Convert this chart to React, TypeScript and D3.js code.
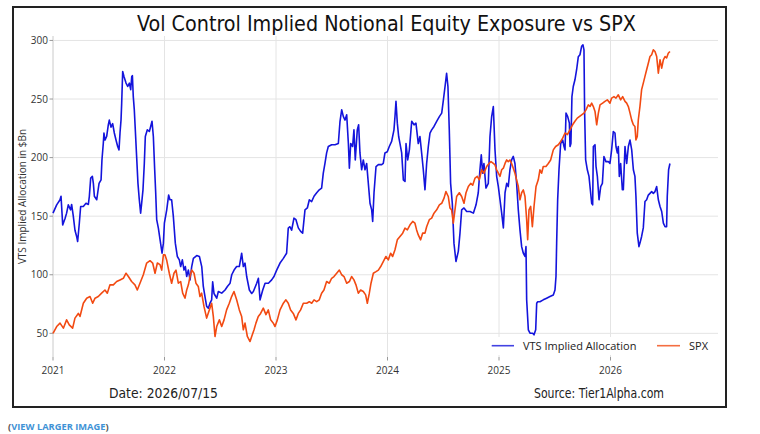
import * as d3 from 'd3'

// VTS implied allocation ($Bn), [fractional year, value]
const vtsPoints: [number, number][] = [
  [2021.0, 152.6], [2021.033, 159.7], [2021.063, 164], [2021.072, 167], [2021.087, 142.6],
  [2021.108, 148], [2021.122, 152.6], [2021.137, 159.7], [2021.158, 155.4], [2021.167, 160],
  [2021.182, 150], [2021.197, 138], [2021.212, 132.7], [2021.221, 128.4], [2021.236, 144],
  [2021.248, 158.3], [2021.272, 158.3], [2021.296, 161], [2021.317, 160], [2021.326, 167],
  [2021.338, 182.5], [2021.353, 184], [2021.362, 178], [2021.371, 167], [2021.392, 164],
  [2021.401, 170], [2021.413, 178], [2021.431, 181], [2021.439, 198], [2021.451, 212],
  [2021.457, 221], [2021.466, 215], [2021.481, 218], [2021.496, 228], [2021.505, 232],
  [2021.52, 226], [2021.535, 229], [2021.55, 221], [2021.565, 215], [2021.58, 209.5],
  [2021.592, 206.6], [2021.601, 221], [2021.61, 232], [2021.616, 246.5], [2021.625, 273.5],
  [2021.637, 269], [2021.655, 263.6], [2021.67, 260.7], [2021.685, 263.6], [2021.697, 258],
  [2021.706, 269], [2021.712, 270], [2021.72, 252], [2021.729, 241], [2021.738, 224],
  [2021.75, 201], [2021.762, 178], [2021.774, 164], [2021.786, 152.6], [2021.795, 161],
  [2021.807, 172.5], [2021.819, 195], [2021.828, 218], [2021.846, 223.7], [2021.864, 222.3],
  [2021.876, 226.6], [2021.888, 231], [2021.9, 218], [2021.912, 189.6], [2021.921, 170],
  [2021.93, 147], [2021.945, 139.8], [2021.96, 130], [2021.978, 118.4], [2021.99, 127],
  [2021.999, 144], [2022.02, 155.4], [2022.037, 168], [2022.049, 164], [2022.064, 164],
  [2022.079, 150], [2022.097, 127], [2022.115, 115.6], [2022.133, 112.7], [2022.145, 107],
  [2022.16, 112.7], [2022.175, 104], [2022.187, 107], [2022.199, 98.5], [2022.214, 104],
  [2022.229, 95.6], [2022.244, 107], [2022.259, 114], [2022.289, 116.4], [2022.313, 115.6],
  [2022.334, 107], [2022.348, 90], [2022.363, 81.4], [2022.378, 73], [2022.393, 71.5],
  [2022.408, 75.7], [2022.423, 78.6], [2022.432, 94], [2022.444, 84], [2022.468, 80],
  [2022.483, 85.7], [2022.513, 84.3], [2022.543, 87], [2022.564, 90], [2022.588, 92.8],
  [2022.603, 100], [2022.624, 104], [2022.647, 107], [2022.671, 107], [2022.692, 118.4],
  [2022.707, 107], [2022.722, 109.9], [2022.737, 98.5], [2022.761, 87], [2022.782, 84],
  [2022.797, 85.7], [2022.827, 92.8], [2022.842, 97], [2022.857, 78.6], [2022.881, 87],
  [2022.902, 92.8], [2022.932, 92.8], [2022.961, 95.6], [2022.982, 98.5], [2023.006, 104],
  [2023.036, 110], [2023.066, 114], [2023.095, 118.4], [2023.11, 139.8], [2023.125, 141],
  [2023.14, 138], [2023.161, 148.3], [2023.179, 147], [2023.2, 140], [2023.221, 137],
  [2023.239, 135.5], [2023.26, 155.4], [2023.281, 157], [2023.299, 164], [2023.32, 162.5],
  [2023.341, 167], [2023.365, 170], [2023.388, 172.5], [2023.409, 174], [2023.424, 186.7],
  [2023.439, 195], [2023.454, 204], [2023.469, 209.5], [2023.499, 211], [2023.529, 211],
  [2023.559, 212], [2023.574, 231], [2023.589, 240.8], [2023.604, 235], [2023.619, 232],
  [2023.634, 236.5], [2023.649, 212], [2023.658, 191], [2023.67, 212], [2023.687, 209.5],
  [2023.699, 223.7], [2023.711, 198], [2023.729, 223.7], [2023.741, 228], [2023.753, 204],
  [2023.768, 189.6], [2023.783, 198], [2023.798, 189.6], [2023.813, 195], [2023.828, 178],
  [2023.843, 161], [2023.858, 155.4], [2023.867, 145.5], [2023.879, 170], [2023.897, 192.4],
  [2023.918, 194], [2023.948, 194], [2023.962, 195], [2023.977, 204], [2023.998, 205],
  [2024.016, 209.5], [2024.037, 213.8], [2024.058, 223.7], [2024.067, 235], [2024.076, 248],
  [2024.088, 229.4], [2024.1, 218], [2024.112, 212], [2024.127, 204], [2024.142, 181],
  [2024.157, 179.6], [2024.166, 212], [2024.181, 198], [2024.196, 206.6], [2024.217, 231],
  [2024.238, 228], [2024.255, 229.4], [2024.276, 212], [2024.291, 218], [2024.306, 204],
  [2024.321, 189.6], [2024.336, 172.5], [2024.351, 195], [2024.366, 209.5], [2024.381, 221],
  [2024.396, 223.7], [2024.417, 226.6], [2024.441, 231], [2024.465, 235], [2024.486, 238],
  [2024.501, 249], [2024.516, 260.7], [2024.53, 272], [2024.542, 260.7], [2024.554, 223.7],
  [2024.566, 178], [2024.581, 161], [2024.596, 127], [2024.614, 111.3], [2024.635, 120],
  [2024.65, 135.5], [2024.665, 155.4], [2024.686, 157], [2024.71, 154], [2024.74, 154],
  [2024.77, 152.6], [2024.794, 159.7], [2024.814, 170], [2024.829, 189.6], [2024.841, 202.4],
  [2024.853, 186.7], [2024.865, 195], [2024.883, 174], [2024.904, 178], [2024.919, 218],
  [2024.934, 235], [2024.949, 243.6], [2024.964, 206.6], [2024.979, 184], [2024.994, 175.3],
  [2025.009, 164], [2025.024, 152.6], [2025.039, 140], [2025.054, 170], [2025.069, 178],
  [2025.083, 175.3], [2025.098, 189.6], [2025.113, 198], [2025.128, 201], [2025.143, 195],
  [2025.158, 178], [2025.173, 155.4], [2025.188, 138.3], [2025.203, 124], [2025.218, 118.4],
  [2025.233, 115.6], [2025.242, 124], [2025.248, 78.6], [2025.263, 53], [2025.278, 50.1],
  [2025.302, 50.1], [2025.314, 48.7], [2025.329, 53], [2025.338, 75.7], [2025.347, 77],
  [2025.367, 77], [2025.397, 78.6], [2025.427, 80], [2025.457, 81.4], [2025.487, 82.8],
  [2025.502, 87], [2025.511, 98.5], [2025.517, 127], [2025.526, 164], [2025.538, 189.6],
  [2025.553, 212], [2025.571, 215], [2025.583, 209.5], [2025.592, 206.6], [2025.601, 238],
  [2025.616, 235], [2025.631, 229.4], [2025.637, 209.5], [2025.645, 212], [2025.654, 252],
  [2025.666, 260.7], [2025.681, 266.4], [2025.696, 275], [2025.711, 286], [2025.726, 287.8],
  [2025.741, 295], [2025.753, 296.3], [2025.762, 292], [2025.768, 238], [2025.777, 198],
  [2025.792, 189.6], [2025.807, 184], [2025.816, 175.3], [2025.831, 161], [2025.84, 159.7],
  [2025.846, 209.5], [2025.861, 211], [2025.87, 192.4], [2025.882, 184], [2025.897, 164],
  [2025.912, 175.3], [2025.927, 178], [2025.941, 201], [2025.959, 196.6], [2025.98, 196.6],
  [2025.995, 195], [2026.01, 206.6], [2026.025, 222.3], [2026.04, 221], [2026.049, 209.5],
  [2026.061, 204], [2026.07, 209.5], [2026.079, 184], [2026.091, 195], [2026.106, 172.5],
  [2026.115, 172.5], [2026.13, 209.5], [2026.145, 195], [2026.16, 209.5], [2026.175, 215],
  [2026.19, 206.6], [2026.205, 189.6], [2026.219, 184], [2026.228, 167], [2026.24, 135.5],
  [2026.255, 124], [2026.264, 127], [2026.279, 132.7], [2026.294, 140], [2026.309, 162.5],
  [2026.324, 164], [2026.339, 168], [2026.354, 169.5], [2026.369, 171], [2026.384, 169.5],
  [2026.399, 171], [2026.414, 175.3], [2026.429, 164], [2026.444, 158.3], [2026.459, 154],
  [2026.474, 144], [2026.489, 141], [2026.503, 141], [2026.509, 167], [2026.521, 189.6],
  [2026.533, 195],
]

// SPX, same axis, [fractional year, value]
const spxPoints: [number, number][] = [
  [2021.0, 50], [2021.033, 55.8], [2021.063, 58.7], [2021.093, 54.4], [2021.122, 61.5],
  [2021.146, 57.2], [2021.176, 54.4], [2021.197, 63], [2021.227, 67], [2021.242, 64.4],
  [2021.272, 75.7], [2021.302, 80], [2021.332, 81.4], [2021.356, 75.7], [2021.377, 80],
  [2021.406, 81.4], [2021.436, 84.3], [2021.466, 87], [2021.487, 84.3], [2021.511, 91.4],
  [2021.541, 91.4], [2021.571, 94.2], [2021.601, 95.6], [2021.631, 97], [2021.655, 101.3],
  [2021.676, 98.5], [2021.705, 94.2], [2021.735, 91.4], [2021.756, 87], [2021.78, 92.8],
  [2021.81, 100], [2021.84, 110], [2021.87, 112], [2021.894, 110], [2021.915, 101.3],
  [2021.936, 110], [2021.96, 108.6], [2021.975, 104], [2021.99, 117], [2022.004, 117],
  [2022.019, 112.7], [2022.043, 101.3], [2022.064, 92.8], [2022.085, 101.3], [2022.103, 104],
  [2022.124, 92.8], [2022.145, 94.2], [2022.163, 84.3], [2022.184, 80], [2022.199, 87],
  [2022.214, 91.4], [2022.229, 98.5], [2022.244, 104], [2022.265, 101.3], [2022.282, 92.8],
  [2022.303, 90], [2022.318, 81.4], [2022.333, 84.3], [2022.354, 73], [2022.378, 63],
  [2022.402, 70], [2022.423, 75.7], [2022.438, 64.3], [2022.453, 47.3], [2022.468, 55.8],
  [2022.492, 61.5], [2022.513, 55.8], [2022.534, 61.5], [2022.557, 70], [2022.581, 75.7],
  [2022.602, 81.4], [2022.623, 85.7], [2022.647, 78.6], [2022.671, 70], [2022.692, 64.3],
  [2022.707, 53], [2022.722, 58.7], [2022.743, 47.3], [2022.767, 43], [2022.782, 47.3],
  [2022.803, 53], [2022.82, 58.7], [2022.841, 64.3], [2022.862, 67], [2022.886, 71.5],
  [2022.91, 66], [2022.931, 70], [2022.952, 61.5], [2022.976, 58.7], [2022.991, 55.8],
  [2023.012, 61.5], [2023.036, 70], [2023.066, 75.7], [2023.089, 78.6], [2023.11, 75.7],
  [2023.131, 70], [2023.155, 67], [2023.179, 61.5], [2023.2, 67], [2023.221, 70],
  [2023.245, 75.7], [2023.275, 75.7], [2023.299, 77], [2023.32, 75.7], [2023.341, 78.6],
  [2023.365, 77], [2023.388, 78.6], [2023.409, 84.3], [2023.43, 87], [2023.454, 94.2],
  [2023.478, 92.8], [2023.499, 97], [2023.52, 98.5], [2023.544, 101.3], [2023.568, 104],
  [2023.589, 100], [2023.61, 98.5], [2023.634, 92.8], [2023.658, 94.2], [2023.678, 98.5],
  [2023.699, 95.6], [2023.717, 91.4], [2023.738, 84.3], [2023.759, 87], [2023.783, 85.7],
  [2023.804, 82.8], [2023.819, 75.7], [2023.837, 84.3], [2023.852, 92.8], [2023.873, 101.3],
  [2023.897, 102.7], [2023.918, 104], [2023.939, 107], [2023.962, 111.3], [2023.986, 115.6],
  [2024.007, 112.7], [2024.028, 118.4], [2024.046, 115.6], [2024.067, 121.3], [2024.088, 129.8],
  [2024.112, 132.7], [2024.136, 135.5], [2024.157, 139.8], [2024.178, 138.3], [2024.202, 142.6],
  [2024.226, 145.5], [2024.246, 144], [2024.261, 138.3], [2024.276, 134], [2024.297, 129.8],
  [2024.315, 135.5], [2024.336, 135.5], [2024.351, 141], [2024.375, 147], [2024.396, 148.3],
  [2024.417, 152.6], [2024.441, 155.4], [2024.465, 159.7], [2024.486, 161], [2024.507, 165.4],
  [2024.524, 171], [2024.545, 166.8], [2024.56, 157], [2024.575, 155.4], [2024.59, 144],
  [2024.605, 155.4], [2024.62, 166.8], [2024.644, 170], [2024.665, 166.8], [2024.686, 161],
  [2024.704, 170], [2024.725, 175.3], [2024.746, 178], [2024.764, 176.5], [2024.785, 182.5],
  [2024.805, 184], [2024.823, 181], [2024.844, 189.6], [2024.865, 186.7], [2024.889, 192.4],
  [2024.91, 195], [2024.928, 196.6], [2024.949, 195], [2024.964, 193.8], [2024.979, 189.6],
  [2024.994, 186.7], [2025.009, 184], [2025.024, 189.6], [2025.039, 191], [2025.054, 195],
  [2025.069, 198], [2025.083, 196.6], [2025.098, 198], [2025.113, 195], [2025.128, 191],
  [2025.143, 186.7], [2025.158, 181], [2025.173, 175.3], [2025.188, 164], [2025.203, 170],
  [2025.218, 172.5], [2025.233, 166.8], [2025.248, 147], [2025.257, 130], [2025.269, 155.4],
  [2025.284, 158.3], [2025.299, 141], [2025.314, 158.3], [2025.332, 175.3], [2025.352, 181],
  [2025.367, 189.6], [2025.382, 186.7], [2025.397, 192.4], [2025.421, 192.4], [2025.442, 195],
  [2025.463, 198], [2025.487, 206.6], [2025.508, 209.5], [2025.532, 211], [2025.553, 213.8],
  [2025.571, 216.6], [2025.592, 221], [2025.613, 219.6], [2025.636, 223.7], [2025.66, 228],
  [2025.681, 231], [2025.702, 233.7], [2025.72, 235], [2025.741, 236.5], [2025.762, 238],
  [2025.78, 240.8], [2025.801, 245], [2025.816, 243.6], [2025.831, 246.5], [2025.846, 243.6],
  [2025.861, 239.4], [2025.876, 228], [2025.891, 238], [2025.906, 245], [2025.929, 246.5],
  [2025.95, 248], [2025.971, 249.3], [2025.995, 246.5], [2026.01, 250.8], [2026.031, 252],
  [2026.049, 250.8], [2026.07, 253.6], [2026.091, 249.3], [2026.109, 252], [2026.13, 248],
  [2026.145, 246.5], [2026.16, 243.6], [2026.175, 238], [2026.19, 232], [2026.205, 228],
  [2026.219, 226.6], [2026.228, 215], [2026.24, 218], [2026.249, 232], [2026.264, 243.6],
  [2026.279, 258], [2026.294, 263.6], [2026.309, 269.3], [2026.324, 275], [2026.339, 280.6],
  [2026.354, 286.3], [2026.369, 287.8], [2026.384, 292], [2026.399, 290.6], [2026.414, 286.3],
  [2026.429, 272], [2026.444, 283.5], [2026.459, 276.4], [2026.474, 283.5], [2026.489, 286.3],
  [2026.503, 285], [2026.518, 289], [2026.533, 290.6],
]

const yTicks = [50, 100, 150, 200, 250, 300]
const xTicks = [2021, 2022, 2023, 2024, 2025, 2026]
const seriesNames = ['VTS Implied Allocation', 'SPX']
const seriesColors = ['#1414dc', '#f24a12']

const W = 760
const H = 434
const plot = { left: 53, right: 718, top: 36, bottom: 357 }
const labelFont = "'Open Sans', 'Noto Sans', sans-serif"
const headFont = "'DejaVu Sans Condensed', 'Liberation Sans Narrow', sans-serif"

export default function App() {
  const x = d3.scaleLinear().domain([2021, 2026.964]).range([plot.left, plot.right])
  const y = d3.scaleLinear().domain([29.8, 303.8]).range([plot.bottom, plot.top])

  const line = d3
    .line<[number, number]>()
    .x(d => x(d[0]))
    .y(d => y(d[1]))

  const legendY = 345.7

  return (
    <svg
      width={W}
      height={H}
      viewBox={`0 0 ${W} ${H}`}
      style={{ position: 'absolute', left: 0, top: 0, background: '#fff' }}
    >
      <rect x={0} y={0} width={W} height={H} fill="#fff" />
      <rect x={13} y={7} width={713} height={400} fill="#fff" stroke="#222" strokeWidth={2} />

      <text
        x={386.5}
        y={31}
        textAnchor="middle"
        fontFamily={headFont}
        fontSize={22}
        fill="#111"
        textLength={499}
        lengthAdjust="spacingAndGlyphs"
      >
        Vol Control Implied Notional Equity Exposure vs SPX
      </text>

      {/* grid */}
      <g stroke="#e4e4e4" strokeWidth={1}>
        {yTicks.map(t => (
          <line key={`gy${t}`} x1={plot.left} x2={plot.right} y1={y(t)} y2={y(t)} />
        ))}
        {xTicks.map(t => (
          <line key={`gx${t}`} x1={x(t)} x2={x(t)} y1={plot.top} y2={plot.bottom} />
        ))}
      </g>
      <line x1={plot.left} x2={plot.left} y1={plot.top} y2={plot.bottom} stroke="#d8d8d8" />

      {/* axes */}
      <g fontFamily={labelFont} fontSize={10} fill="#333">
        {yTicks.map(t => (
          <g key={`ty${t}`}>
            <line x1={plot.left - 3.5} x2={plot.left} y1={y(t)} y2={y(t)} stroke="#999" />
            <text x={plot.left - 5} y={y(t)} dy="0.35em" textAnchor="end">
              {t}
            </text>
          </g>
        ))}
        {xTicks.map(t => (
          <g key={`tx${t}`}>
            <line x1={x(t)} x2={x(t)} y1={plot.bottom} y2={plot.bottom + 3.5} stroke="#999" />
            <text x={x(t)} y={370.7} dy="0.35em" textAnchor="middle">
              {t}
            </text>
          </g>
        ))}
      </g>
      <text
        transform={`translate(22.5,${(plot.top + plot.bottom) / 2}) rotate(-90)`}
        textAnchor="middle"
        dy="0.35em"
        fontFamily={labelFont}
        fontSize={10}
        fill="#333"
      >
        VTS Implied Allocation in $Bn
      </text>

      {/* series */}
      <path d={line(vtsPoints) ?? ''} fill="none" stroke={seriesColors[0]} strokeWidth={1.6} strokeLinejoin="round" />
      <path d={line(spxPoints) ?? ''} fill="none" stroke={seriesColors[1]} strokeWidth={1.6} strokeLinejoin="round" />

      {/* legend */}
      <rect x={484} y={337} width={232} height={18} fill="#fff" />
      <g fontFamily={labelFont} fontSize={11} fill="#222">
        <line x1={491.7} x2={514} y1={legendY} y2={legendY} stroke={seriesColors[0]} strokeWidth={1.6} opacity={0.8} />
        <text x={523} y={legendY} dy="0.35em">
          {seriesNames[0]}
        </text>
        <line x1={657} x2={680} y1={legendY} y2={legendY} stroke={seriesColors[1]} strokeWidth={1.6} opacity={0.8} />
        <text x={689} y={legendY} dy="0.35em">
          {seriesNames[1]}
        </text>
      </g>

      {/* footer */}
      <text x={109} y={398} fontFamily={headFont} fontSize={13.5} fill="#222" textLength={109} lengthAdjust="spacingAndGlyphs">
        Date: 2026/07/15
      </text>
      <text x={534} y={398} fontFamily={headFont} fontSize={13.5} fill="#222" textLength={130} lengthAdjust="spacingAndGlyphs">
        Source: Tier1Alpha.com
      </text>

      <text x={8} y={430} fontFamily={labelFont} fontSize={9.3} fontWeight={700}>
        <tspan fill="#555">(</tspan>
        <tspan fill="#3f93d6">VIEW LARGER IMAGE</tspan>
        <tspan fill="#555">)</tspan>
      </text>
    </svg>
  )
}
